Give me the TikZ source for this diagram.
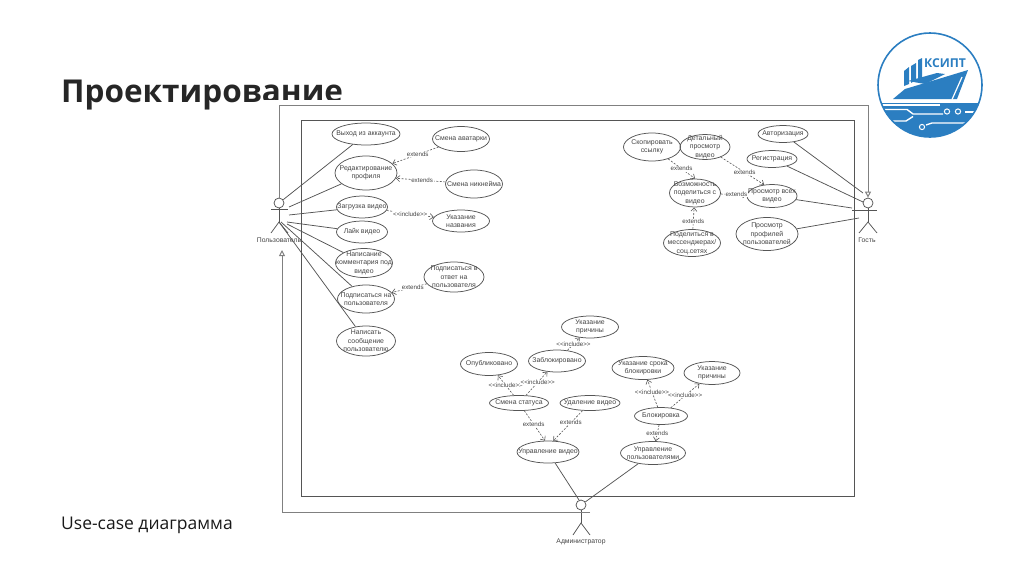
\documentclass[tikz,border=0pt]{standalone}
\usepackage{fontspec}
\setmainfont{Liberation Sans}
\newfontfamily\slidefont{Open Sans}
\usetikzlibrary{shapes.geometric,arrows.meta}
\definecolor{logoblue}{HTML}{2B7EC1}
\definecolor{umlline}{HTML}{555555}
\definecolor{umltext}{HTML}{444444}
\tikzset{
    usecase/.style={ellipse, draw=umlline, line width=0.75pt, inner sep=0pt},
    casetext/.style={align=center, inner sep=0pt, text=umltext, font=\fontsize{6.9}{8.4}\selectfont},
    actorname/.style={inner sep=0pt, text=umltext, font=\fontsize{6.8}{8}\selectfont},
    head/.style={circle, draw=umlline, line width=0.75pt, inner sep=0pt, minimum size=10pt},
    assoc/.style={draw=umlline, line width=0.75pt},
    general/.style={draw=gray, line width=1pt, -{Triangle[open,length=6pt,width=6pt,fill=white]}},
    relation/.style={draw=umlline, line width=0.6pt, dashed, dash pattern=on 2pt off 1.5pt, -{Straight Barb[length=3.5pt,width=6pt]}},
    rellabel/.style={fill=white, inner sep=0.5pt, text=umltext, font=\fontsize{6.2}{7}\selectfont}
}
\begin{document}
\begin{tikzpicture}[x=1pt, y=-1pt]
    \useasboundingbox (0,0) rectangle (1024,574);
    \node[anchor=base west, inner sep=0pt, text=black!85, font=\slidefont\bfseries\fontsize{31.5}{36}\selectfont] (Title) at (61,102) {Проектирование};
    \node[anchor=west, inner sep=0pt, text=black!90, font=\slidefont\fontsize{17.5}{20}\selectfont] (Sub) at (61,525) {Use-case диаграмма};
    \fill[white] (260,99.5) rectangle (350,112);

    \begin{scope}
        \clip (930,85) circle (52);
        \fill[logoblue] (870,103) rectangle (990,140);
        \draw[white, line width=1.4pt] (870,109.5) -- (907,109.5) -- (913,114) -- (943,114);
        \draw[white, line width=1.4pt] (870,121) -- (906,121) -- (913,116.5);
        \draw[white, line width=1.4pt] (926,125) -- (932,123) -- (990,123);
        \draw[white, line width=1.4pt] (870,105) -- (940,105);
        \draw[white, line width=1.4pt] (965,112) -- (990,112);
    \end{scope}
    \draw[logoblue, line width=1.6pt] (930,85) circle (52);
    \draw[white, fill=logoblue, line width=1pt] (947,111.5) circle (2.6);
    \draw[white, fill=logoblue, line width=1pt] (958,111.5) circle (2.6);
    \draw[white, fill=logoblue, line width=1pt] (922,127) circle (2.6);
    \fill[logoblue] (893,99) -- (905,89) -- (945,77) -- (968,70) -- (957,99) -- cycle;
    \draw[white, line width=1.2pt] (962,77) -- (952,99.5);
    \fill[logoblue] (904,71) -- (909,67) -- (909,84) -- (904,86) -- cycle;
    \fill[logoblue] (911,66) -- (916,63) -- (916,80) -- (911,83) -- cycle;
    \fill[logoblue] (918,60) -- (922,58) -- (922,78) -- (918,80) -- cycle;
    \fill[logoblue] (908,81) -- (937,73) -- (945,74) -- (925,84) -- cycle;
    \node[inner sep=0pt, text=logoblue, font=\slidefont\bfseries\fontsize{12.2}{14}\selectfont] (Logo) at (945,63) {КСИПТ};

    \draw[umlline, line width=1pt] (301,120) rectangle (854,496);

    \node[head] (UH) at (279,203) {};
    \coordinate (UB) at (279,222);
    \coordinate (UA1) at (271,209);
    \coordinate (UA2) at (288,209);
    \coordinate (UF1) at (271,233);
    \coordinate (UF2) at (288,233);
    \node[actorname] (User) at (279,240) {Пользователь};
    \draw[assoc] (UA1) -- (UA2);
    \draw[assoc] (UH) -- (UB);
    \draw[assoc] (UF1) -- (UB) -- (UF2);

    \node[head] (GH) at (868,203) {};
    \coordinate (GB) at (868,222);
    \coordinate (GA1) at (852,210);
    \coordinate (GA2) at (877,210);
    \coordinate (GF1) at (859,233);
    \coordinate (GF2) at (877,233);
    \node[actorname] (Guest) at (867,240) {Гость};
    \draw[assoc] (GA1) -- (GA2);
    \draw[assoc] (GH) -- (GB);
    \draw[assoc] (GF1) -- (GB) -- (GF2);

    \node[head] (AH) at (581,505) {};
    \coordinate (AB) at (581,523);
    \coordinate (AA2) at (590,512);
    \coordinate (AF1) at (573,535);
    \coordinate (AF2) at (590,535);
    \node[actorname] (Admin) at (581,542) {Администратор};
    \draw[assoc] (AH) -- (AB);
    \draw[assoc] (AF1) -- (AB) -- (AF2);

    \coordinate (TL) at (279,105);
    \coordinate (TR) at (868,105);
    \coordinate (BL) at (282,512);
    \coordinate (UP) at (282,250);
    \draw[general] (UH.north) -- (TL) -- (TR) -- (GH.north);
    \draw[general] (AA2) -- (BL) -- (UP);

    \node[usecase, minimum width=68pt, minimum height=22pt, label={[casetext]center:Выход из аккаунта}] (Exit) at (366,134) {};
    \node[usecase, minimum width=62pt, minimum height=34pt, label={[casetext]center:Редактирование\\профиля}] (Edit) at (366,173) {};
    \node[usecase, minimum width=51pt, minimum height=22pt, label={[casetext]center:Загрузка видео}] (Upload) at (362,207) {};
    \node[usecase, minimum width=51pt, minimum height=22pt, label={[casetext]center:Лайк видео}] (Like) at (362,232) {};
    \node[usecase, minimum width=57pt, minimum height=29pt, label={[casetext]center:Написание\\комментария под\\видео}] (Comment) at (364,263) {};
    \node[usecase, minimum width=57pt, minimum height=28pt, label={[casetext]center:Подписаться на\\пользователя}] (Sub1) at (366,299) {};
    \node[usecase, minimum width=59pt, minimum height=30pt, label={[casetext]center:Написать\\сообщение\\пользователю}] (Msg) at (366,341) {};
    \node[usecase, minimum width=57pt, minimum height=25pt, label={[casetext]center:Смена аватарки}] (Avatar) at (461,139) {};
    \node[usecase, minimum width=57pt, minimum height=28pt, label={[casetext]center:Смена никнейма}] (Nick) at (474,184) {};
    \node[usecase, minimum width=57pt, minimum height=22pt, label={[casetext]center:Указание\\названия}] (VName) at (461,221) {};
    \node[usecase, minimum width=60pt, minimum height=30pt, label={[casetext]center:Подписаться в\\ответ на\\пользователя}] (Sub2) at (454,277) {};

    \node[usecase, minimum width=57pt, minimum height=23pt, label={[casetext]center:Опубликовано}] (Pub) at (489,364) {};
    \node[usecase, minimum width=57pt, minimum height=22pt, label={[casetext]center:Заблокировано}] (Block) at (557,361) {};
    \node[usecase, minimum width=57pt, minimum height=22pt, label={[casetext]center:Указание\\причины}] (Why1) at (590,327) {};
    \node[usecase, minimum width=59pt, minimum height=15pt, label={[casetext]center:Смена статуса}] (Status) at (519,403) {};
    \node[usecase, minimum width=60pt, minimum height=15pt, label={[casetext]center:Удаление видео}] (Del) at (590,403) {};
    \node[usecase, minimum width=62pt, minimum height=22pt, label={[casetext]center:Управление видео}] (MVideo) at (548,452) {};
    \node[usecase, minimum width=62pt, minimum height=23pt, label={[casetext]center:Указание срока\\блокировки}] (Term) at (643,368) {};
    \node[usecase, minimum width=56pt, minimum height=23pt, label={[casetext]center:Указание\\причины}] (Why2) at (712,373) {};
    \node[usecase, minimum width=53pt, minimum height=17pt, label={[casetext]center:Блокировка}] (Ban) at (661,416) {};
    \node[usecase, minimum width=65pt, minimum height=23pt, label={[casetext]center:Управление\\пользователями}] (MUser) at (653,453) {};

    \node[usecase, minimum width=57pt, minimum height=28pt, label={[casetext]center:Скопировать\\ссылку}] (Copy) at (652,147) {};
    \node[usecase, minimum width=50pt, minimum height=25pt, label={[casetext]center:Детальный\\просмотр\\видео}] (Detail) at (705,147) {};
    \node[usecase, minimum width=50pt, minimum height=17pt, label={[casetext]center:Авторизация}] (Auth) at (783,134) {};
    \node[usecase, minimum width=50pt, minimum height=17pt, label={[casetext]center:Регистрация}] (Reg) at (772,159) {};
    \node[usecase, minimum width=51pt, minimum height=28pt, label={[casetext]center:Возможность\\поделиться с\\видео}] (Share) at (695,193) {};
    \node[usecase, minimum width=50pt, minimum height=23pt, label={[casetext]center:Просмотр всех\\видео}] (All) at (772,196) {};
    \node[usecase, minimum width=57pt, minimum height=27pt, label={[casetext]center:Поделиться в\\мессенджерах/\\соц.сетях}] (Social) at (692,243) {};
    \node[usecase, minimum width=62pt, minimum height=33pt, label={[casetext]center:Просмотр\\профилей\\пользователей}] (Prof) at (767,234) {};

    \coordinate (U1) at (289,207);
    \coordinate (U2) at (289,215);
    \coordinate (U3) at (287,222);
    \coordinate (U4) at (287,224);
    \coordinate (U5) at (281,222);
    \coordinate (U6) at (279,222);
    \coordinate (G1) at (863,193);
    \coordinate (G2) at (863,202);
    \coordinate (G3) at (852,208);
    \coordinate (G4) at (859,218);
    \coordinate (A1) at (579,500);

    \draw[assoc] (Exit) -- (UH);
    \draw[assoc] (Edit) -- (U1);
    \draw[assoc] (Upload) -- (U2);
    \draw[assoc] (Like) -- (U3);
    \draw[assoc] (Comment) -- (U4);
    \draw[assoc] (Sub1) -- (U5);
    \draw[assoc] (Msg) -- (U6);
    \draw[assoc] (Auth) -- (G1);
    \draw[assoc] (Reg) -- (G2);
    \draw[assoc] (All) -- (G3);
    \draw[assoc] (Prof) -- (G4);
    \draw[assoc] (MVideo) -- (A1);
    \draw[assoc] (MUser) -- (AH);

    \draw[relation] (Avatar) -- (Edit) node[rellabel, pos=0.45] {extends};
    \draw[relation] (Nick) -- (Edit.350) node[rellabel, pos=0.47] {extends};
    \draw[relation] (Upload) -- (VName) node[rellabel, pos=0.5] {<{}<include>{}>};
    \draw[relation] (Sub2) -- (Sub1) node[rellabel, pos=0.4] {extends};
    \draw[relation] (Status.125) -- (Pub) node[rellabel, pos=0.5] {<{}<include>{}>};
    \draw[relation] (Status) -- (Block) node[rellabel, pos=0.55] {<{}<include>{}>};
    \draw[relation] (Block) -- (Why1) node[rellabel, pos=0.5] {<{}<include>{}>};
    \draw[relation] (Status) -- (MVideo.105) node[rellabel, pos=0.45] {extends};
    \draw[relation] (Del) -- (MVideo.65) node[rellabel, pos=0.4] {extends};
    \draw[relation] (Ban) -- (Term) node[rellabel, pos=0.55] {<{}<include>{}>};
    \draw[relation] (Ban) -- (Why2) node[rellabel, pos=0.5] {<{}<include>{}>};
    \draw[relation] (Ban) -- (MUser) node[rellabel, pos=0.5] {extends};
    \draw[relation] (Copy) -- (Share.north) node[rellabel, pos=0.5] {extends};
    \draw[relation] (Detail) -- (All.125) node[rellabel, pos=0.55] {extends};
    \draw[relation] (Share) -- (All) node[rellabel, pos=0.6] {extends};
    \draw[relation] (Social) -- (Share) node[rellabel, pos=0.35] {extends};
\end{tikzpicture}
\end{document}
